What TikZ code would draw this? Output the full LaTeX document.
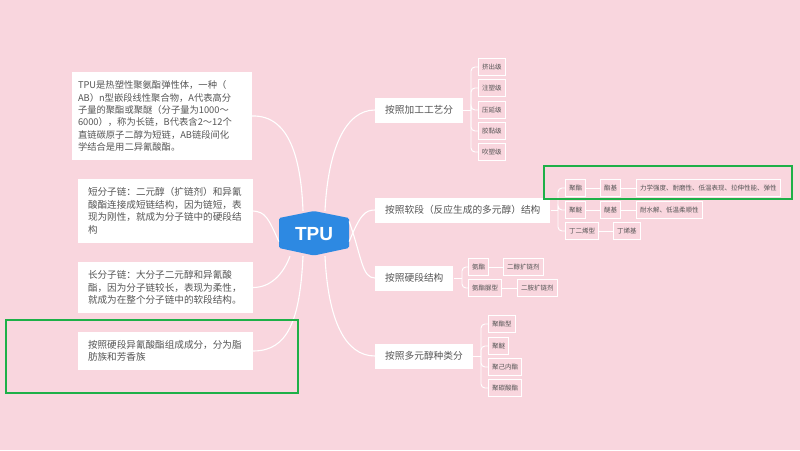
\documentclass[tikz,border=0pt]{standalone}
\usepackage{fontspec}
\setmainfont{Noto Sans CJK SC}
\newfontfamily\tpufont{Liberation Sans}
\XeTeXlinebreaklocale "zh"
\definecolor{bgpink}{RGB}{249,214,222}
\definecolor{txtgrey}{RGB}{85,85,85}
\definecolor{tpublue}{RGB}{45,137,226}
\definecolor{hlgreen}{RGB}{30,176,72}
\tikzset{
  leftbox/.style={fill=white, text=txtgrey, align=left, inner ysep=0pt, inner xsep=10pt,
    font=\fontsize{9.6}{12.5}\selectfont},
  branchbox/.style={fill=white, text=txtgrey, inner xsep=10pt, inner ysep=0pt, minimum height=25pt,
    anchor=west, font=\fontsize{9.7}{11}\selectfont},
  leafbox/.style={draw=white, line width=0.9pt, fill=bgpink, text=txtgrey, inner xsep=3.6pt, inner ysep=0pt,
    minimum height=17pt, anchor=west, font=\fontsize{6.5}{7}\selectfont},
  mainline/.style={draw=white, line width=1.1pt},
  leafline/.style={draw=white, line width=0.9pt},
  hlbox/.style={draw=hlgreen, line width=1.8pt}
}
\begin{document}
\begin{tikzpicture}[x=1pt,y=-1pt]
\fill[bgpink] (0,0) rectangle (800,450);
\useasboundingbox (0,0) rectangle (800,450);

% left boxes
\node[leftbox, text width=168pt, inner xsep=6pt, minimum height=88pt,
  font=\fontsize{9.3}{12.3}\selectfont] (b1) at (162,116)
  {TPU是热塑性聚氨酯弹性体，一种（\\AB）n型嵌段线性聚合物，A代表高分\\子量的聚酯或聚醚（分子量为1000～\\6000），称为长链，B代表含2～12个\\直链碳原子二醇为短链，AB链段间化\\学结合是用二异氰酸酯。};
\node[leftbox, text width=155pt, minimum height=64pt] (b2) at (165.5,211)
  {短分子链：二元醇（扩链剂）和异氰\\酸酯连接成短链结构，因为链短，表\\现为刚性，就成为分子链中的硬段结\\构};
\node[leftbox, text width=155pt, minimum height=51pt] (b3) at (165.5,287.5)
  {长分子链：大分子二元醇和异氰酸\\酯，因为分子链较长，表现为柔性，\\就成为在整个分子链中的软段结构。};
\node[leftbox, text width=155pt, minimum height=38pt] (b4) at (165.5,351)
  {按照硬段异氰酸酯组成成分，分为脂\\肪族和芳香族};

% TPU centre
\node[minimum width=70pt, minimum height=45pt, inner sep=0pt] (tpu) at (314,233.5) {};
\fill[tpublue, rounded corners=1.5pt] (279,218) -- (314,211) -- (349,218) -- (349,248) -- (314,255.5) -- (279,248) -- cycle;
\node[text=white, font=\tpufont\bfseries\fontsize{19}{20}\selectfont] (tputext) at (314,234) {TPU};

% branch boxes
\node[branchbox] (A) at (375,110) {按照加工工艺分};
\node[branchbox] (B) at (375,210) {按照软段（反应生成的多元醇）结构};
\node[branchbox] (C) at (375,278) {按照硬段结构};
\node[branchbox] (D) at (375,356) {按照多元醇种类分};

% main connectors (left)
\draw[mainline] ([xshift=-11pt]tpu.north) .. controls (301,160) and (290,115) .. (b1.east);
\draw[mainline] ([yshift=-8pt]tpu.west) .. controls (268,217) and (265,212) .. (b2.east);
\draw[mainline] ([xshift=-24pt]tpu.south) .. controls (283,275) and (270,287.5) .. (b3.east);
\draw[mainline] ([xshift=-11pt]tpu.south) .. controls (300,320) and (288,351) .. (b4.east);
% main connectors (right)
\draw[mainline] ([xshift=11pt]tpu.north) .. controls (328,150) and (345,110) .. (A.west);
\draw[mainline] ([yshift=-8pt]tpu.east) .. controls (360,215) and (365,210) .. (B.west);
\draw[mainline] ([yshift=12pt]tpu.east) .. controls (362,258) and (362,278) .. (C.west);
\draw[mainline] ([xshift=11pt]tpu.south) .. controls (328,320) and (345,356) .. (D.west);

% A leaves
\node[leafbox] (a1) at (478,67) {挤出级};
\node[leafbox] (a2) at (478,88) {注塑级};
\node[leafbox] (a3) at (478,110) {压延级};
\node[leafbox] (a4) at (478,131) {胶黏级};
\node[leafbox] (a5) at (478,152) {吹塑级};
\coordinate (ja) at (471,110);
\draw[leafline] (A.east) -- (ja);
\foreach \n in {a1,a2,a3,a4,a5} \draw[leafline, rounded corners=4pt] (ja) |- (\n.west);

% B leaves
\node[leafbox] (b11) at (565,188) {聚酯};
\node[leafbox] (b12) at (600,188) {酯基};
\node[leafbox] (b13) at (636,188) {力学强度、耐磨性、低温表现、拉伸性能、弹性};
\node[leafbox] (b21) at (565,210) {聚醚};
\node[leafbox] (b22) at (600,210) {醚基};
\node[leafbox] (b23) at (636,210) {耐水解、低温柔顺性};
\node[leafbox] (b31) at (565,231) {丁二烯型};
\node[leafbox] (b32) at (613,231) {丁烯基};
\coordinate (jb) at (558,210);
\draw[leafline] (B.east) -- (jb);
\foreach \n in {b11,b21,b31} \draw[leafline, rounded corners=4pt] (jb) |- (\n.west);
\draw[leafline] (b11.east) -- (b12.west);
\draw[leafline] (b12.east) -- (b13.west);
\draw[leafline] (b21.east) -- (b22.west);
\draw[leafline] (b22.east) -- (b23.west);
\draw[leafline] (b31.east) -- (b32.west);

% C leaves
\node[leafbox] (c1) at (468,267) {氨酯};
\node[leafbox] (c2) at (503,267) {二醇扩链剂};
\node[leafbox] (c3) at (468,288) {氨酯脲型};
\node[leafbox] (c4) at (517,288) {二胺扩链剂};
\coordinate (jc) at (462,278);
\draw[leafline] (C.east) -- (jc);
\foreach \n in {c1,c3} \draw[leafline, rounded corners=4pt] (jc) |- (\n.west);
\draw[leafline] (c1.east) -- (c2.west);
\draw[leafline] (c3.east) -- (c4.west);

% D leaves
\node[leafbox] (d1) at (488,324) {聚酯型};
\node[leafbox] (d2) at (488,346) {聚醚};
\node[leafbox] (d3) at (488,367) {聚己内酯};
\node[leafbox] (d4) at (488,388) {聚碳酸酯};
\coordinate (jd) at (481,356);
\draw[leafline] (D.east) -- (jd);
\foreach \n in {d1,d2,d3,d4} \draw[leafline, rounded corners=4pt] (jd) |- (\n.west);

% highlight rectangles
\draw[hlbox] (6,320) rectangle (298,393);
\draw[hlbox] (544,166) rectangle (792,199);
\end{tikzpicture}
\end{document}
